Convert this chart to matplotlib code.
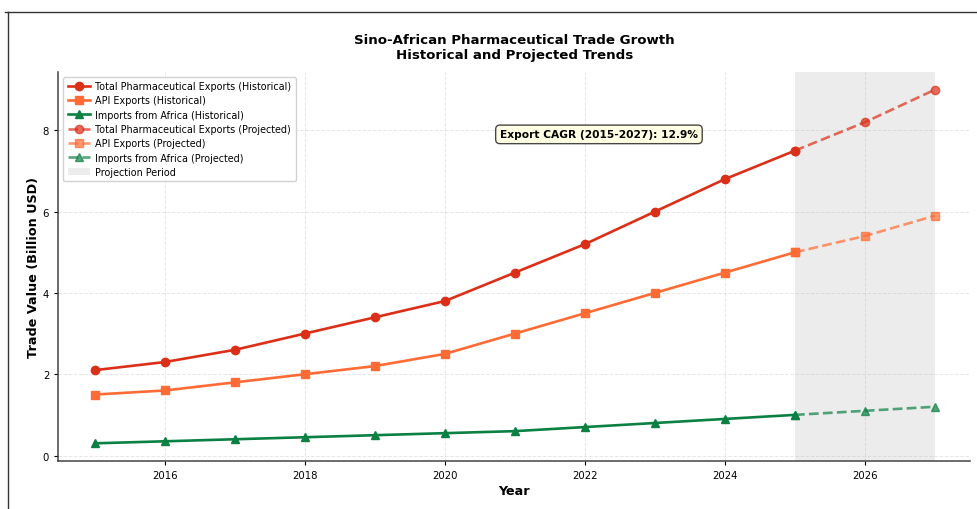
import matplotlib
matplotlib.use("Agg")
import matplotlib.pyplot as plt
from matplotlib.lines import Line2D

years_hist = [2015, 2016, 2017, 2018, 2019, 2020, 2021, 2022, 2023, 2024, 2025]
total_hist = [2.1, 2.3, 2.6, 3.0, 3.4, 3.8, 4.5, 5.2, 6.0, 6.8, 7.5]
api_hist = [1.5, 1.6, 1.8, 2.0, 2.2, 2.5, 3.0, 3.5, 4.0, 4.5, 5.0]
imports_hist = [0.3, 0.35, 0.4, 0.45, 0.5, 0.55, 0.6, 0.7, 0.8, 0.9, 1.0]

years_proj = [2025, 2026, 2027]
total_proj = [7.5, 8.2, 9.0]
api_proj = [5.0, 5.4, 5.9]
imports_proj = [1.0, 1.1, 1.2]

c_total = '#DC2F18'
c_api = '#FF6B35'
c_imp = '#0B8043'

fig = plt.figure(figsize=(9.78, 5.1), dpi=100)
ax = fig.add_axes([0.0598, 0.0941, 0.9320, 0.7628])

lw = 1.9
ax.plot(years_hist, total_hist, '-o', color=c_total, lw=lw, ms=6, label='Total Pharmaceutical Exports (Historical)')
ax.plot(years_hist, api_hist, '-s', color=c_api, lw=lw, ms=5.5, label='API Exports (Historical)')
ax.plot(years_hist, imports_hist, '-^', color=c_imp, lw=lw, ms=6, label='Imports from Africa (Historical)')
ax.plot(years_proj, total_proj, '--o', color=c_total, lw=lw, ms=6, alpha=0.7, label='Total Pharmaceutical Exports (Projected)')
ax.plot(years_proj, api_proj, '--s', color=c_api, lw=lw, ms=5.5, alpha=0.7, label='API Exports (Projected)')
ax.plot(years_proj, imports_proj, '--^', color=c_imp, lw=lw, ms=6, alpha=0.7, label='Imports from Africa (Projected)')
ax.axvspan(2025, 2027, color='gray', alpha=0.15, lw=0, label='Projection Period')

ax.set_xlim(2014.48, 2027.5)
ax.grid(True, linestyle='--', alpha=0.3, lw=0.7)
ax.spines['top'].set_visible(False)
ax.spines['right'].set_visible(False)
for s in ['left', 'bottom']:
    ax.spines[s].set_linewidth(1.1)
    ax.spines[s].set_color('#444444')
ax.tick_params(labelsize=7.3, length=3.2, width=0.8)

ax.set_xlabel('Year', fontsize=9.2, fontweight='bold', labelpad=3)
ax.set_ylabel('Trade Value (Billion USD)', fontsize=9.2, fontweight='bold', labelpad=2)
ax.set_title('Sino-African Pharmaceutical Trade Growth\nHistorical and Projected Trends',
             fontsize=9.6, fontweight='bold', pad=10)

ax.legend(loc='upper left', fontsize=6.9, framealpha=0.9, handlelength=2.3,
          borderpad=0.45, labelspacing=0.45, handletextpad=0.6)

ax.text(2022.2, 7.9, 'Export CAGR (2015-2027): 12.9%', ha='center', va='center',
        fontsize=7.7, fontweight='bold',
        bbox=dict(boxstyle='round,pad=0.4', facecolor='#FFFFE0', edgecolor='#333333', alpha=0.9))

# figure border (partially visible)
fig.add_artist(Line2D([8/978, 8/978], [0, 1 - 13/510], transform=fig.transFigure, color='#333333', lw=1))
fig.add_artist(Line2D([5/978, 1], [1 - 13/510, 1 - 13/510], transform=fig.transFigure, color='#333333', lw=1))

fig.savefig('out.png', dpi=100)
